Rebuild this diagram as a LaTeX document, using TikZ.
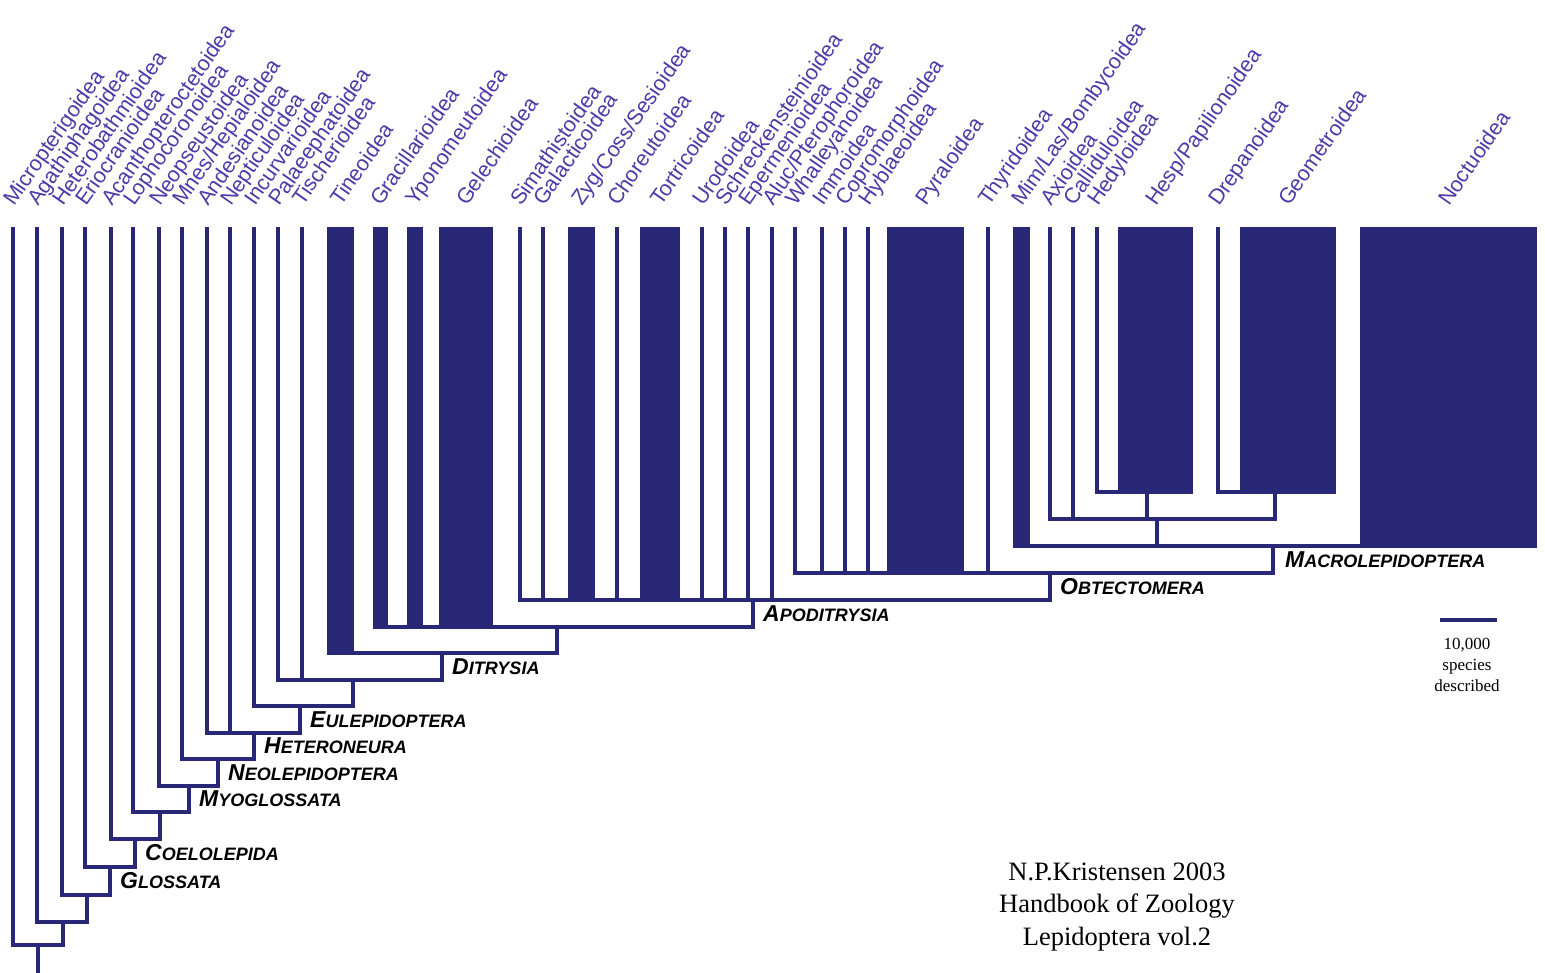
\documentclass[tikz,border=0pt]{standalone}
\usepackage{fontspec}
\usepackage{tikz}
\usetikzlibrary{calc,positioning}
\newfontfamily\labelfont{Liberation Sans}
\newfontfamily\notefont{Liberation Serif}
\definecolor{cladeblue}{RGB}{40,40,118}
\definecolor{labelblue}{RGB}{78,58,168}
\newcommand{\clade}[2]{{\fontsize{23}{23}\selectfont #1}{\fontsize{18}{18}\selectfont #2}}
\tikzset{
    branch/.style={draw=cladeblue,line width=4.5pt},
    block/.style={fill=cladeblue},
    taxon/.style={rotate=55,anchor=base west,inner sep=0pt,text=labelblue,font=\labelfont\fontsize{21.5}{21.5}\selectfont},
    clade/.style={anchor=west,inner sep=0pt,font=\labelfont\bfseries\itshape},
    scaletext/.style={align=center,inner sep=0pt,font=\notefont\fontsize{17}{21}\selectfont},
    credit/.style={align=center,inner sep=0pt,font=\notefont\fontsize{26.5}{32.5}\selectfont},
}
\begin{document}
\begin{tikzpicture}[x=1pt,y=-1pt]
        \useasboundingbox (0,0) rectangle (1545,973);

        % tips and their names
        \foreach \n/\x/\t in {micro/13/Micropterigoidea, agath/37/Agathiphagoidea,
            hetero/62/Heterobathmioidea, erio/85/Eriocranioidea,
            acanth/111/Acanthopteroctetoidea, lopho/133/Lophocoronoidea,
            neops/159/Neopseustoidea, mnes/182/{Mnes/Hepialoidea},
            andes/207/Andesianoidea, neptic/230/Nepticuloidea,
            incurv/254/Incurvarioidea, palae/278/Palaeephatoidea,
            tisch/302/Tischerioidea, tineo/340/Tineoidea,
            gracil/380/Gracillarioidea, ypono/415/Yponomeutoidea,
            gelech/466/Gelechioidea, simaeth/520/Simathistoidea,
            galact/543/Galacticoidea, zyg/581/{Zyg/Coss/Sesioidea},
            choreut/617/Choreutoidea, tortric/660/Tortricoidea,
            urod/702/Urodoidea, schreck/725/Schreckensteinioidea,
            eperm/748/Epermenioidea, aluc/772/{Aluc/Pterophoroidea},
            whall/795/Whalleyanoidea, immo/822/Immoidea,
            coprom/845/Copromorphoidea, hyblae/868/Hyblaeoidea,
            pyral/925/Pyraloidea, thyrid/988/Thyridoidea,
            mimlas/1021/{Mim/Las/Bombycoidea}, axio/1050/Axioidea,
            callid/1073/Calliduloidea, hedyl/1097/Hedyloidea,
            hesp/1155/{Hesp/Papilionoidea}, drepan/1218/Drepanoidea,
            geom/1288/Geometroidea, noctu/1448/Noctuoidea}{
            \coordinate (\n) at (\x,227);
            \node[taxon] (lab-\n) at (\x+1,207) {\t};
        }

        % species-rich groups
        \foreach \a/\b/\y in {327/354/653, 373/388/627, 407/423/627, 439/493/627,
            568/595/600, 640/680/600, 887/964/573, 1013/1030/546,
            1118/1193/492, 1240/1336/492, 1360/1537/546}
            \fill[block] (\a,227) rectangle (\b,\y+2);

        % inner nodes
        \coordinate (root) at (38,945);
        \coordinate (base) at (38,973);
        \coordinate (nA) at (63,922);
        \coordinate (nB) at (87,895);
        \coordinate (glossata) at (110,867);
        \coordinate (coelolepida) at (135,839);
        \coordinate (nC) at (160,812);
        \coordinate (myoglossata) at (189,786);
        \coordinate (neolepidoptera) at (218,759);
        \coordinate (heteroneura) at (254,733);
        \coordinate (eulepidoptera) at (300,706);
        \coordinate (nD) at (353,680);
        \coordinate (ditrysia) at (442,653);
        \coordinate (nE) at (557,627);
        \coordinate (apoditrysia) at (753,600);
        \coordinate (obtectomera) at (1050,573);
        \coordinate (macrolep) at (1273,546);
        \coordinate (nF) at (1157,519);
        \coordinate (nG) at (1147,492);
        \coordinate (nH) at (1275,492);

        \draw[branch] (micro) |- (root) -| (nA);
        \draw[branch] (root) -- (base);
        \draw[branch] (agath) |- (nA) -| (nB);
        \draw[branch] (hetero) |- (nB) -| (glossata);
        \draw[branch] (erio) |- (glossata) -| (coelolepida);
        \draw[branch] (acanth) |- (coelolepida) -| (nC);
        \draw[branch] (lopho) |- (nC) -| (myoglossata);
        \draw[branch] (neops) |- (myoglossata) -| (neolepidoptera);
        \draw[branch] (mnes) |- (neolepidoptera) -| (heteroneura);
        \draw[branch] (andes) |- (heteroneura) -| (eulepidoptera);
        \draw[branch] (neptic) -- (neptic |- heteroneura);
        \draw[branch] (incurv) |- (eulepidoptera) -| (nD);
        \draw[branch] (palae) |- (nD) -| (ditrysia);
        \draw[branch] (tisch) -- (tisch |- nD);
        \draw[branch] (tineo) |- (ditrysia) -| (nE);
        \draw[branch] (gracil) |- (nE) -| (apoditrysia);
        \foreach \t in {ypono,gelech}
            \draw[branch] (\t) -- (\t |- nE);
        \draw[branch] (simaeth) |- (apoditrysia) -| (obtectomera);
        \foreach \t in {galact,zyg,choreut,tortric,urod,schreck,eperm,aluc}
            \draw[branch] (\t) -- (\t |- apoditrysia);
        \draw[branch] (whall) |- (obtectomera) -| (macrolep);
        \foreach \t in {immo,coprom,hyblae,pyral,thyrid}
            \draw[branch] (\t) -- (\t |- obtectomera);
        \draw[branch] (mimlas) |- (macrolep) -| (noctu);
        \draw[branch] (nF) -- (nF |- macrolep);
        \draw[branch] (axio) |- (nF) -| (nH);
        \draw[branch] (callid) -- (callid |- nF);
        \draw[branch] (nG) -- (nG |- nF);
        \draw[branch] (hedyl) |- (nG) -| (hesp);
        \draw[branch] (drepan) |- (nH) -| (geom);

        % clade names
        \node[clade] (lab-glossata) at ($(glossata)!.5!(glossata |- nB)+(10,0)$) {\clade{G}{LOSSATA}};
        \node[clade] (lab-coelolepida) at ($(coelolepida)!.5!(coelolepida |- glossata)+(10,0)$) {\clade{C}{OELOLEPIDA}};
        \node[clade] (lab-myoglossata) at ($(myoglossata)!.5!(myoglossata |- nC)+(10,0)$) {\clade{M}{YOGLOSSATA}};
        \node[clade] (lab-neolepidoptera) at ($(neolepidoptera)!.5!(neolepidoptera |- myoglossata)+(10,0)$) {\clade{N}{EOLEPIDOPTERA}};
        \node[clade] (lab-heteroneura) at ($(heteroneura)!.5!(heteroneura |- neolepidoptera)+(10,0)$) {\clade{H}{ETERONEURA}};
        \node[clade] (lab-eulepidoptera) at ($(eulepidoptera)!.5!(eulepidoptera |- heteroneura)+(10,0)$) {\clade{E}{ULEPIDOPTERA}};
        \node[clade] (lab-ditrysia) at ($(ditrysia)!.5!(ditrysia |- nD)+(10,0)$) {\clade{D}{ITRYSIA}};
        \node[clade] (lab-apoditrysia) at ($(apoditrysia)!.5!(apoditrysia |- nE)+(10,0)$) {\clade{A}{PODITRYSIA}};
        \node[clade] (lab-obtectomera) at ($(obtectomera)!.5!(obtectomera |- apoditrysia)+(10,0)$) {\clade{O}{BTECTOMERA}};
        \node[clade] (lab-macrolep) at ($(macrolep)!.5!(macrolep |- obtectomera)+(12,0)$) {\clade{M}{ACROLEPIDOPTERA}};

        % scale
        \coordinate (bar-l) at (1440,620);
        \coordinate (bar-r) at (1497,620);
        \draw[cladeblue,line width=4pt] (bar-l) -- (bar-r);
        \node[scaletext] (bar-text) at (1467,665) {10,000\\species\\described};

        \node[credit] (credit) at (1117,907) {N.P.Kristensen 2003\\Handbook of Zoology\\Lepidoptera vol.2};
\end{tikzpicture}
\end{document}
